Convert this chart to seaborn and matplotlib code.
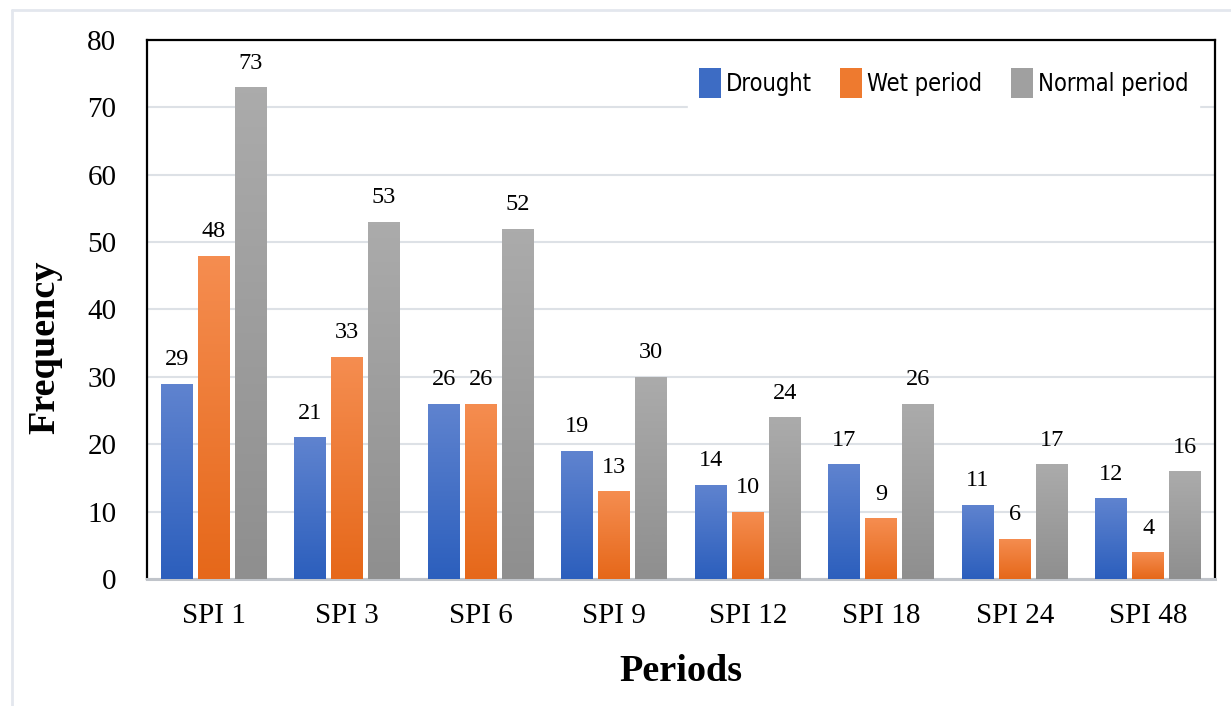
import numpy as np
import pandas as pd
import matplotlib
matplotlib.use("Agg")
import matplotlib.pyplot as plt
import matplotlib.patches as mpatches
from matplotlib.colors import LinearSegmentedColormap
from matplotlib.lines import Line2D
import seaborn as sns

categories = ["SPI 1", "SPI 3", "SPI 6", "SPI 9", "SPI 12", "SPI 18", "SPI 24", "SPI 48"]
drought = [29, 21, 26, 19, 14, 17, 11, 12]
wet = [48, 33, 26, 13, 10, 9, 6, 4]
normal = [73, 53, 52, 30, 24, 26, 17, 16]
series_names = ["Drought", "Wet period", "Normal period"]

# gradient colors (top, bottom)
grad = {
    "Drought": ("#5f83cf", "#2c5fbd"),
    "Wet period": ("#f58d50", "#e6681a"),
    "Normal period": ("#ababab", "#8f8f8f"),
}
mid = {"Drought": "#3d6cc4", "Wet period": "#ee7a2f", "Normal period": "#a0a0a0"}

df = pd.DataFrame({
    "Period": categories * 3,
    "Series": [series_names[0]] * 8 + [series_names[1]] * 8 + [series_names[2]] * 8,
    "Frequency": drought + wet + normal,
})

sns.set_theme(style="white")
plt.rcParams["font.family"] = ["Liberation Serif", "DejaVu Serif"]
plt.rcParams["text.color"] = "black"
plt.rcParams["axes.labelcolor"] = "black"

fig = plt.figure(figsize=(12.31, 7.06), dpi=100)
ax = fig.add_axes([0.1194, 0.18, 0.8676, 0.7633])

sns.barplot(data=df, x="Period", y="Frequency", hue="Series", hue_order=series_names,
            palette=mid, width=0.83, gap=0.135, ax=ax, legend=False, zorder=3)

ax.set_ylim(0, 80)
ax.set_xlim(-0.5, 7.5)

# gradient fill of bars
n = len(categories)
for i, patch in enumerate(list(ax.patches)):
    s = series_names[i // n]
    top, bot = grad[s]
    x0 = patch.get_x()
    w = patch.get_width()
    h = patch.get_height()
    cmap = LinearSegmentedColormap.from_list("g", [bot, top])
    arr = np.linspace(0, 1, 64).reshape(-1, 1)
    im = ax.imshow(arr, cmap=cmap, origin="lower", aspect="auto",
                   extent=[x0, x0 + w, 0, h], zorder=3, interpolation="bilinear")
    im.set_clip_path(patch)
    patch.set_facecolor("none")
    patch.set_edgecolor("none")
    ax.text(x0 + w / 2, h + 2.0, f"{int(h)}", ha="center", va="bottom",
            fontsize=17.5, color="black", zorder=5)

ax.set_xlim(-0.5, 7.5)
ax.set_ylim(0, 80)
ax.set_yticks(range(0, 81, 10))
ax.yaxis.grid(True, color="#dde1e6", linewidth=1.5, zorder=0)
ax.set_axisbelow(True)
ax.tick_params(axis="both", length=0, labelsize=21, colors="black")
ax.tick_params(axis="y", pad=22)
ax.tick_params(axis="x", pad=17)

for side in ["left", "top", "right"]:
    ax.spines[side].set_color("black")
    ax.spines[side].set_linewidth(1.6)
    ax.spines[side].set_visible(True)
ax.spines["bottom"].set_color("#c0c4ca")
ax.spines["bottom"].set_linewidth(2.2)
ax.spines["bottom"].set_visible(True)

ax.set_ylabel("Frequency", fontsize=27.5, fontweight="bold", color="black")
ax.yaxis.set_label_coords(-0.079, 0.43)
ax.set_xlabel("Periods", fontsize=27.5, fontweight="bold", labelpad=18, color="black")

handles = [mpatches.Patch(facecolor=mid[s], edgecolor="none") for s in series_names]
leg = ax.legend(handles, series_names, loc="upper right", bbox_to_anchor=(0.996, 0.99),
                ncol=3, frameon=True, fancybox=False, framealpha=1,
                prop={"family": "DejaVu Sans", "stretch": "condensed", "size": 17},
                handlelength=0.93, handleheight=1.6, handletextpad=0.22,
                columnspacing=1.2, borderpad=0.45, labelcolor="black")
leg.get_frame().set_edgecolor("white")
leg.get_frame().set_facecolor("white")
leg.set_zorder(6)

# outer light border
fig.add_artist(Line2D([12 / 1231, 12 / 1231], [0, 1 - 10 / 706], transform=fig.transFigure,
                      color="#e3e7ee", linewidth=2))
fig.add_artist(Line2D([12 / 1231, 1], [1 - 10 / 706, 1 - 10 / 706], transform=fig.transFigure,
                      color="#e3e7ee", linewidth=2))

fig.savefig("out.png", dpi=100)
